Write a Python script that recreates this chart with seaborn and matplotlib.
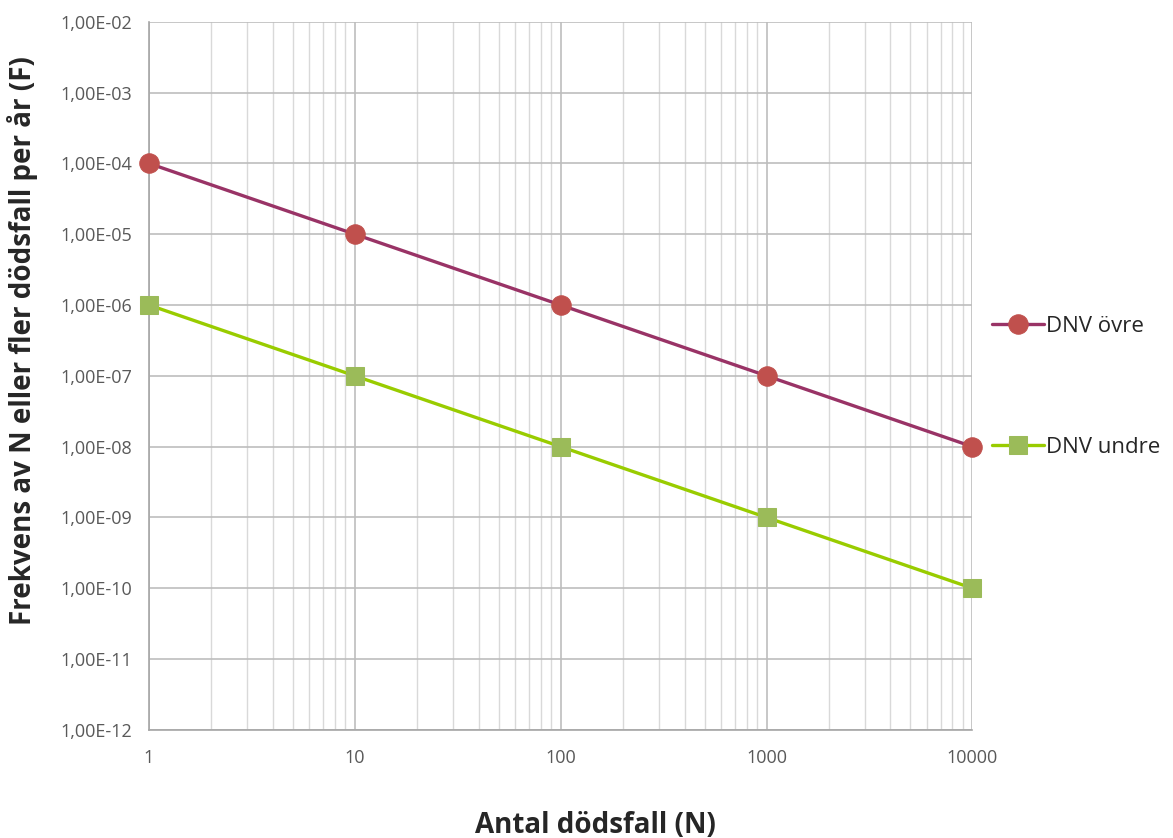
import numpy as np
import pandas as pd
import matplotlib
matplotlib.use("Agg")
import matplotlib.pyplot as plt
import seaborn as sns
from matplotlib.ticker import FuncFormatter, LogLocator

# data
antal = [1, 10, 100, 1000, 10000]
ovre = [1e-4, 1e-5, 1e-6, 1e-7, 1e-8]
undre = [1e-6, 1e-7, 1e-8, 1e-9, 1e-10]

sns.set_style("white")
plt.rcParams['font.family'] = ['Open Sans', 'DejaVu Sans']

fig = plt.figure(figsize=(11.73, 8.38), dpi=100)
ax = fig.add_axes([0.127, 0.129, 0.702, 0.845])

df_o = pd.DataFrame({'N': antal, 'F': ovre})
df_u = pd.DataFrame({'N': antal, 'F': undre})

sns.lineplot(data=df_o, x='N', y='F', ax=ax, color='#993366', linewidth=2.4,
             marker='o', markersize=14, markerfacecolor='#C0504D',
             markeredgecolor='#C0504D', label='DNV övre', zorder=5, clip_on=False)
sns.lineplot(data=df_u, x='N', y='F', ax=ax, color='#99CC00', linewidth=2.4,
             marker='s', markersize=13, markerfacecolor='#9BBB59',
             markeredgecolor='#9BBB59', label='DNV undre', zorder=5, clip_on=False)

ax.set_xscale('log')
ax.set_yscale('log')
ax.set_xlim(1, 10000)
ax.set_ylim(1e-12, 1e-2)

ax.yaxis.set_major_locator(LogLocator(base=10, numticks=20))
ax.yaxis.set_minor_locator(LogLocator(base=10, subs=[], numticks=20))
ax.xaxis.set_major_locator(LogLocator(base=10, numticks=10))
ax.xaxis.set_minor_locator(LogLocator(base=10, subs=np.arange(2, 10), numticks=10))

ax.yaxis.set_major_formatter(FuncFormatter(lambda v, p: f"{v:.2E}".replace('.', ',')))
ax.xaxis.set_major_formatter(FuncFormatter(lambda v, p: f"{v:.0f}"))

ax.grid(which='major', color='#BDBDBD', linewidth=1.2)
ax.grid(which='minor', axis='x', color='#D9D9D9', linewidth=1.0)

for s in ['top', 'right']:
    ax.spines[s].set_visible(False)
for s in ['left', 'bottom']:
    ax.spines[s].set_color('#A6A6A6')
    ax.spines[s].set_linewidth(1.2)

ax.tick_params(axis='both', which='major', labelsize=13, colors='#595959',
               length=4, direction='out', pad=10)
ax.tick_params(axis='x', which='minor', length=0)
ax.tick_params(axis='y', which='major', pad=8)
ax.set_xlabel('')
ax.set_ylabel('')

# axeltitlar
fig.text(23 / 1173, 1 - 341 / 838, 'Frekvens av N eller fler dödsfall per år (F)',
         rotation=90, ha='center', va='center', fontsize=20, fontweight='bold')
fig.text(595 / 1173, 1 - 825 / 838, 'Antal dödsfall (N)',
         ha='center', va='center', fontsize=20, fontweight='bold')

handles, labels = ax.get_legend_handles_labels()
ax.get_legend().remove()
fig.legend(handles, labels, loc='center left', bbox_to_anchor=(0.829, 1 - 387 / 838),
           frameon=False, fontsize=16, labelspacing=4.5, handlelength=2.3,
           handletextpad=0.1)

fig.savefig('out.png', dpi=100)
